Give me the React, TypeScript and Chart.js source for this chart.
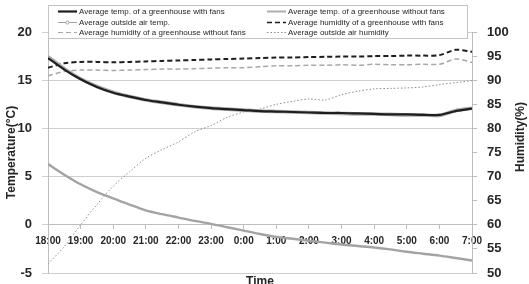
import { useEffect, useRef } from "react";
import { Chart, registerables } from "chart.js";

Chart.register(...registerables);

// Hour tick labels, 18:00 through 7:00 the next morning
const timeLabels = [
  "18:00", "19:00", "20:00", "21:00", "22:00", "23:00", "0:00",
  "1:00", "2:00", "3:00", "4:00", "5:00", "6:00", "7:00",
];

// Sampling times, in hours after 18:00
const sampleHours = [
  0, 0.5, 1, 1.5, 2, 2.5, 3, 3.5, 4, 4.5, 5, 5.5, 6, 6.5,
  7, 7.5, 8, 8.5, 9, 9.5, 10, 10.5, 11, 11.5, 12, 12.5, 13,
];

// Temperatures (°C)
const tempWithFans = [
  17.3, 16.1, 15.1, 14.3, 13.7, 13.3, 12.95, 12.7, 12.45, 12.25, 12.1, 12.0, 11.9, 11.8,
  11.75, 11.7, 11.65, 11.6, 11.6, 11.55, 11.5, 11.45, 11.45, 11.4, 11.4, 11.8, 12.05,
];
const tempWithoutFans = [
  17.45, 16.2, 15.15, 14.35, 13.75, 13.3, 12.95, 12.7, 12.45, 12.25, 12.1, 12.0, 11.9, 11.8,
  11.75, 11.7, 11.65, 11.6, 11.55, 11.5, 11.5, 11.45, 11.4, 11.4, 11.35, 11.85, 12.1,
];
const outsideTemp = [
  6.3, 5.2, 4.2, 3.4, 2.75, 2.1, 1.5, 1.1, 0.75, 0.4, 0.1, -0.25, -0.6, -0.95,
  -1.25, -1.45, -1.65, -1.85, -2.05, -2.2, -2.35, -2.55, -2.8, -3.0, -3.2, -3.45, -3.7,
];

// Relative humidity (%)
const humidityWithFans = [
  92.6, 93.5, 93.8, 93.8, 93.7, 93.8, 93.9, 94.0, 94.1, 94.2, 94.3, 94.4, 94.5, 94.6,
  94.7, 94.7, 94.8, 94.85, 94.9, 94.9, 95.0, 95.0, 95.1, 95.1, 95.2, 96.3, 95.9,
];
const humidityWithoutFans = [
  90.9, 91.8, 92.1, 92.1, 92.0, 92.1, 92.2, 92.3, 92.3, 92.4, 92.5, 92.6, 92.6, 92.8,
  93.0, 93.0, 93.1, 93.1, 93.2, 93.1, 93.3, 93.2, 93.2, 93.3, 93.3, 94.4, 93.7,
];
const outsideHumidity = [
  51.9, 55.5, 60.0, 64.2, 68.0, 71.0, 73.8, 75.6, 77.2, 79.3, 80.6, 82.3, 83.4, 84.0,
  85.0, 85.6, 86.1, 85.9, 87.0, 87.7, 88.2, 88.3, 88.4, 88.6, 89.1, 89.5, 89.9,
];

const seriesNames = [
  "Average temp. of a greenhouse with fans",
  "Average temp. of a greenhouse without fans",
  "Average outside air temp.",
  "Average humidity of a greenhouse with fans",
  "Average humidity of a greenhouse without fans",
  "Average outside air humidity",
];

const FONT = "'Liberation Sans', Arial, sans-serif";
const TEXT = "#262626";
const GRID = "#cfcfcf";

const toPoints = (values: number[]) =>
  sampleHours.map((h, i) => ({ x: h, y: values[i] }));

// Boxed two-column legend laid over the top of the plot, plus axis titles
const overlayPlugin = {
  id: "overlay",
  afterDraw(chart: any) {
    const { ctx, chartArea } = chart;
    const datasets = chart.data.datasets;
    ctx.save();

    // legend box
    ctx.fillStyle = "#ffffff";
    ctx.strokeStyle = "#c4c4c4";
    ctx.lineWidth = 1;
    ctx.setLineDash([]);
    ctx.fillRect(48.5, 5.5, 419, 33);
    ctx.strokeRect(48.5, 5.5, 419, 33);

    const cols = [58, 267];
    const rows = [11, 21.5, 32];
    const sampleWidths = [2.2, 2, 1, 1.6, 1, 1];
    ctx.font = `8px ${FONT}`;
    ctx.textBaseline = "middle";
    ctx.textAlign = "left";
    datasets.forEach((ds: any, i: number) => {
      const x = cols[i % 2];
      const y = Math.round(rows[Math.floor(i / 2)]) + 0.5;
      ctx.strokeStyle = ds.borderColor;
      ctx.lineWidth = sampleWidths[i];
      ctx.setLineDash(ds.borderDash || []);
      ctx.beginPath();
      ctx.moveTo(x, y);
      ctx.lineTo(x + 19, y);
      ctx.stroke();
      ctx.setLineDash([]);
      if (i === 2) {
        ctx.fillStyle = "#ffffff";
        ctx.beginPath();
        ctx.arc(x + 9.5, y, 1.6, 0, Math.PI * 2);
        ctx.fill();
        ctx.stroke();
      }
      ctx.fillStyle = TEXT;
      ctx.fillText(ds.label, x + 21, y);
    });

    // axis titles
    ctx.fillStyle = TEXT;
    ctx.font = `bold 12px ${FONT}`;
    ctx.textAlign = "center";
    ctx.textBaseline = "middle";
    ctx.save();
    ctx.translate(12, (chartArea.top + chartArea.bottom) / 2);
    ctx.rotate(-Math.PI / 2);
    ctx.fillText("Temperature(°C)", 0, 0);
    ctx.restore();

    ctx.save();
    ctx.translate(521, 137);
    ctx.rotate(-Math.PI / 2);
    ctx.fillText("Humidity(%)", 0, 0);
    ctx.restore();

    ctx.textBaseline = "top";
    ctx.fillText("Time", (chartArea.left + chartArea.right) / 2, 276);
    ctx.restore();
  },
};

// Fixed axis widths; vertical label padding is dropped so the plot spans the full height
const fixedWidth = (w: number) => (s: any) => {
  s.width = w;
  s.paddingTop = 0;
  s.paddingBottom = 0;
};

export default function App() {
  const canvasRef = useRef<HTMLCanvasElement | null>(null);

  useEffect(() => {
    if (!canvasRef.current) return;
    const line = {
      fill: false,
      pointRadius: 0,
      pointHoverRadius: 0,
      tension: 0.3,
    };
    const chart = new Chart(canvasRef.current, {
      type: "line",
      data: {
        datasets: [
          {
            ...line,
            label: seriesNames[0],
            data: toPoints(tempWithFans),
            borderColor: "#1e1e1e",
            borderWidth: 2.2,
            yAxisID: "y",
          },
          {
            ...line,
            label: seriesNames[1],
            data: toPoints(tempWithoutFans),
            borderColor: "#adadad",
            borderWidth: 3.6,
            yAxisID: "y",
          },
          {
            ...line,
            label: seriesNames[2],
            data: toPoints(outsideTemp),
            borderColor: "#a3a3a3",
            borderWidth: 2.4,
            yAxisID: "y",
          },
          {
            ...line,
            label: seriesNames[3],
            data: toPoints(humidityWithFans),
            borderColor: "#1e1e1e",
            borderWidth: 2,
            borderDash: [5, 3],
            yAxisID: "y1",
          },
          {
            ...line,
            label: seriesNames[4],
            data: toPoints(humidityWithoutFans),
            borderColor: "#a8a8a8",
            borderWidth: 1.5,
            borderDash: [5, 3],
            yAxisID: "y1",
          },
          {
            ...line,
            label: seriesNames[5],
            data: toPoints(outsideHumidity),
            borderColor: "#8c8c8c",
            borderWidth: 1,
            borderDash: [1.5, 2],
            yAxisID: "y1",
          },
        ],
      },
      options: {
        responsive: false,
        animation: false,
        events: [],
        layout: { padding: { top: 32, bottom: 11, left: 0, right: 0 } },
        plugins: {
          legend: { display: false },
          tooltip: { enabled: false },
          title: { display: false },
        },
        scales: {
          x: {
            type: "linear",
            position: { y: 0 } as any,
            min: 0,
            max: 13,
            afterFit: (s: any) => {
              s.height = 0;
            },
            ticks: {
              stepSize: 1,
              autoSkip: false,
              maxRotation: 0,
              padding: 6,
              color: TEXT,
              font: { family: FONT, size: 10, weight: "bold" },
              callback: (v: any) => timeLabels[Math.round(Number(v))] ?? "",
            },
            grid: {
              drawOnChartArea: false,
              drawTicks: true,
              tickLength: 4,
              color: "#bdbdbd",
            },
            border: { display: true, color: "#bdbdbd" },
          },
          y: {
            type: "linear",
            position: "left",
            min: -5,
            max: 20,
            afterFit: fixedWidth(48),
            ticks: {
              stepSize: 5,
              padding: 10,
              color: TEXT,
              font: { family: FONT, size: 13, weight: "bold" },
            },
            grid: { color: GRID, tickLength: 6, drawTicks: true },
            border: { display: true, color: "#bdbdbd" },
          },
          y1: {
            type: "linear",
            position: "right",
            min: 50,
            max: 100,
            afterFit: fixedWidth(57),
            ticks: {
              stepSize: 5,
              padding: 10,
              color: TEXT,
              font: { family: FONT, size: 13, weight: "bold" },
            },
            grid: {
              drawOnChartArea: false,
              drawTicks: true,
              tickLength: 5,
              color: "#bdbdbd",
            },
            border: { display: true, color: "#bdbdbd" },
          },
        },
      } as any,
      plugins: [overlayPlugin],
    });
    return () => chart.destroy();
  }, []);

  return (
    <div style={{ position: "absolute", left: 0, top: 0, width: 529, height: 284, background: "#ffffff" }}>
      <canvas ref={canvasRef} width={529} height={284} />
    </div>
  );
}
